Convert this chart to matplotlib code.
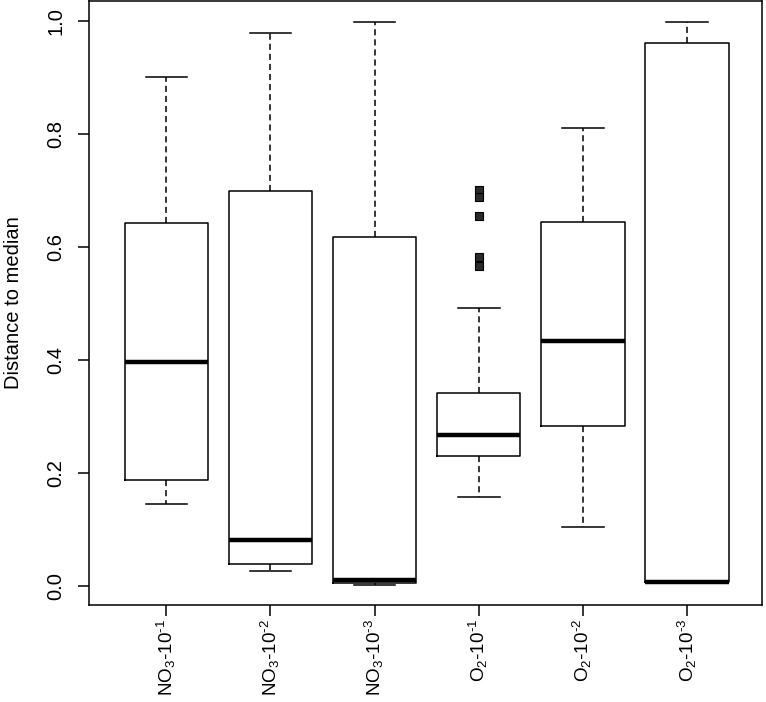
import matplotlib
matplotlib.use("Agg")
import matplotlib.pyplot as plt

plt.rcParams['font.family'] = ['Liberation Sans', 'DejaVu Sans']
plt.rcParams['mathtext.fontset'] = 'custom'
plt.rcParams['mathtext.rm'] = 'Liberation Sans'
plt.rcParams['mathtext.it'] = 'Liberation Sans:italic'
plt.rcParams['mathtext.bf'] = 'Liberation Sans:bold'

labels = [r"NO$_3$-10$^{\text{-1}}$", r"NO$_3$-10$^{\text{-2}}$", r"NO$_3$-10$^{\text{-3}}$",
          r"O$_2$-10$^{\text{-1}}$", r"O$_2$-10$^{\text{-2}}$", r"O$_2$-10$^{\text{-3}}$"]
whislo = [0.145, 0.027, 0.002, 0.157, 0.104, 0.005]
q1 = [0.187, 0.038, 0.005, 0.230, 0.283, 0.006]
med = [0.397, 0.081, 0.010, 0.267, 0.434, 0.007]
q3 = [0.643, 0.699, 0.618, 0.342, 0.645, 0.962]
whishi = [0.902, 0.980, 0.998, 0.492, 0.811, 0.998]
fliers = [[], [], [], [0.702, 0.689, 0.656, 0.583, 0.566], [], []]
yticks = [0.0, 0.2, 0.4, 0.6, 0.8, 1.0]
ylabel = "Distance to median"

stats = []
for i in range(len(labels)):
    stats.append(dict(whislo=whislo[i], q1=q1[i], med=med[i], q3=q3[i],
                      whishi=whishi[i], fliers=fliers[i], label=labels[i]))

W, H = 766, 702
fig = plt.figure(figsize=(W / 100, H / 100), dpi=100)
left, right, top, bottom = 89.3, 762, 1, 605
ax = fig.add_axes([left / W, (H - bottom) / H, (right - left) / W, (bottom - top) / H])

lw = 1.1
fs = 14.5
ax.bxp(stats, positions=range(1, len(labels) + 1), widths=0.8,
       boxprops=dict(color='black', linewidth=lw),
       whiskerprops=dict(color='black', linewidth=lw, linestyle=(0, (4, 2.6))),
       capprops=dict(color='black', linewidth=lw),
       medianprops=dict(color='black', linewidth=3.2, solid_capstyle='butt'),
       flierprops=dict(marker='s', markersize=5.5, markerfacecolor='#2a2a2a',
                       markeredgecolor='black', markeredgewidth=0.8, linestyle='none'),
       capwidths=0.4)

ax.set_xlim(0.26, 6.72)
ax.set_ylim(-0.034, 1.036)
ax.set_yticks(yticks)
ax.set_yticklabels([f"{v:.1f}" for v in yticks], rotation=90, va='center', fontsize=fs)
ax.set_xticks(range(1, len(labels) + 1))
ax.set_xticklabels(labels, rotation=90, fontsize=13.6)
ax.tick_params(axis='both', length=8, width=lw, color='black')
ax.tick_params(axis='y', pad=9)
ax.tick_params(axis='x', pad=2)
for s in ax.spines.values():
    s.set_linewidth(lw)
ax.set_ylabel(ylabel, fontsize=fs)
ax.yaxis.set_label_coords(-0.098, 0.5)

fig.savefig("out.png", dpi=100)
